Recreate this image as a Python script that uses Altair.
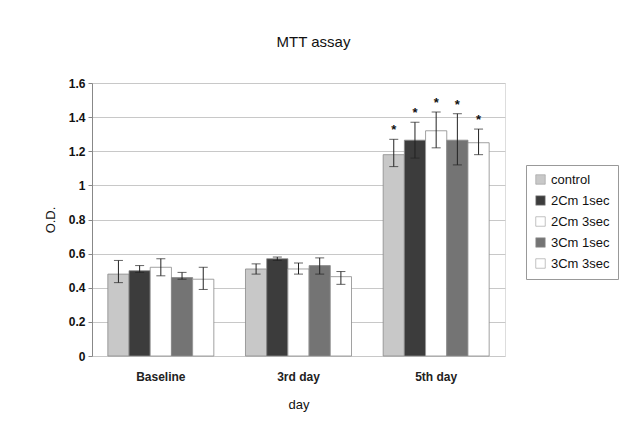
import altair as alt
import pandas as pd

days = ["Baseline", "3rd day", "5th day"]
groups = ["control", "2Cm 1sec", "2Cm 3sec", "3Cm 1sec", "3Cm 3sec"]
colors = ["#c8c8c8", "#3c3c3c", "#ffffff", "#747474", "#ffffff"]
y_ticks = [0, 0.2, 0.4, 0.6, 0.8, 1, 1.2, 1.4, 1.6]

mean_baseline = [0.48, 0.50, 0.52, 0.46, 0.45]
low_baseline = [0.43, 0.49, 0.47, 0.45, 0.39]
high_baseline = [0.56, 0.53, 0.57, 0.49, 0.52]

mean_day3 = [0.51, 0.57, 0.51, 0.53, 0.465]
low_day3 = [0.48, 0.56, 0.48, 0.48, 0.42]
high_day3 = [0.54, 0.58, 0.545, 0.575, 0.495]

mean_day5 = [1.18, 1.265, 1.32, 1.265, 1.25]
low_day5 = [1.11, 1.16, 1.22, 1.12, 1.18]
high_day5 = [1.27, 1.37, 1.43, 1.42, 1.33]

star_day5 = ["*", "*", "*", "*", "*"]

rows = []
for day, m, lo, hi, st in [
    ("Baseline", mean_baseline, low_baseline, high_baseline, [""] * 5),
    ("3rd day", mean_day3, low_day3, high_day3, [""] * 5),
    ("5th day", mean_day5, low_day5, high_day5, star_day5),
]:
    for g, a, b, c, s in zip(groups, m, lo, hi, st):
        rows.append({"day": day, "group": g, "mean": a, "lo": b, "hi": c, "star": s})
df = pd.DataFrame(rows)

FONT = "Liberation Sans"

x = alt.X("day:N", sort=days, title="day",
          scale=alt.Scale(paddingInner=0.23, paddingOuter=0.115),
          axis=alt.Axis(labelAngle=0, ticks=False, domain=False, labelPadding=15,
                        labelFontSize=12, labelFontWeight="bold", labelColor="#222",
                        titleFontSize=13, titleFontWeight="normal", titlePadding=16,
                        titleColor="#111", grid=False))
xo = alt.XOffset("group:N", sort=groups, scale=alt.Scale(paddingInner=0.0, paddingOuter=0.0))
yscale = alt.Scale(domain=[0, 1.6], nice=False)
yaxis = alt.Axis(values=y_ticks, format=".1~f", labelOverlap=False,
                 labelFontSize=12, labelFontWeight="bold", labelColor="#111",
                 tickSize=4, tickColor="#888", labelPadding=3,
                 domainColor="#888", gridColor="#c8c8c8",
                 titleFontSize=13, titleFontWeight="normal", titlePadding=11,
                 titleColor="#111")

base = alt.Chart(df)

bars = base.mark_bar(stroke="#8a8a8a", strokeWidth=0.8).encode(
    x=x,
    xOffset=xo,
    y=alt.Y("mean:Q", scale=yscale, title="O.D.", axis=yaxis),
    fill=alt.Fill("group:N", sort=groups,
                  scale=alt.Scale(domain=groups, range=colors),
                  legend=alt.Legend(title=None, orient="none", legendX=434, legendY=82,
                                    symbolType="square", symbolSize=90,
                                    symbolStrokeColor="#999", symbolStrokeWidth=0.6,
                                    labelFontSize=13, labelColor="#111", labelFont=FONT,
                                    rowPadding=7, padding=8, strokeColor="#999",
                                    fillColor="#ffffff", labelLimit=200)),
)

rules = base.mark_rule(color="#222", strokeWidth=1).encode(
    x=x, xOffset=xo,
    y=alt.Y("lo:Q", scale=yscale, title="O.D.", axis=yaxis), y2="hi:Q",
)
cap_lo = base.mark_tick(color="#222", size=9, thickness=1).encode(
    x=x, xOffset=xo, y=alt.Y("lo:Q", scale=yscale, title="O.D.", axis=yaxis))
cap_hi = base.mark_tick(color="#222", size=9, thickness=1).encode(
    x=x, xOffset=xo, y=alt.Y("hi:Q", scale=yscale, title="O.D.", axis=yaxis))
stars = base.mark_text(fontSize=13, fontWeight="bold", dy=-9, baseline="middle", color="#111").encode(
    x=x, xOffset=xo, y=alt.Y("hi:Q", scale=yscale, title="O.D.", axis=yaxis), text="star:N")

chart = alt.layer(bars, rules, cap_lo, cap_hi, stars).properties(
    width=413, height=273,
    title=alt.Title("MTT assay", fontSize=15, fontWeight="normal", font=FONT,
                    color="#111", anchor="middle", dx=15, offset=27),
    autosize=alt.AutoSizeParams(type="none"),
    padding={"left": 84, "top": 75, "right": 123, "bottom": 58},
).configure_view(stroke="#bbbbbb", strokeWidth=1).configure(font=FONT, background="white")

chart.save("out.html", embed_options={"renderer": "svg", "actions": False})
